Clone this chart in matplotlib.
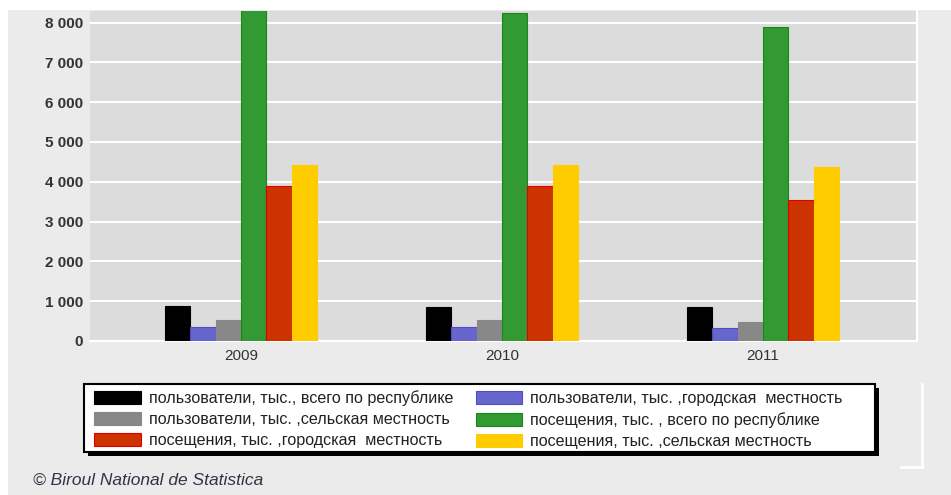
import matplotlib
matplotlib.use("Agg")
import matplotlib.pyplot as plt
import numpy as np
from matplotlib.patches import Rectangle
from matplotlib.lines import Line2D

years = ["2009", "2010", "2011"]
series_labels = [
    "пользователи, тыс., всего по республике",
    "пользователи, тыс. ,городская  местность",
    "пользователи, тыс. ,сельская местность",
    "посещения, тыс. , всего по республике",
    "посещения, тыс. ,городская  местность",
    "посещения, тыс. ,сельская местность",
]
users_total = [887, 846, 846]
users_urban = [360, 360, 318]
users_rural = [528, 520, 485]
visits_total = [8350, 8250, 7900]
visits_urban = [3895, 3895, 3543]
visits_rural = [4414, 4414, 4380]
yticks = [0, 1000, 2000, 3000, 4000, 5000, 6000, 7000, 8000]
ytick_labels = ["0", "1 000", "2 000", "3 000", "4 000", "5 000", "6 000", "7 000", "8 000"]
source_text = "© Biroul National de Statistica"

series = [users_total, users_urban, users_rural, visits_total, visits_urban, visits_rural]
colors = ["#000000", "#6666cc", "#888888", "#339933", "#cc3300", "#ffcc00"]
edges = ["#000000", "#4f4fc0", "#888888", "#138a13", "#e00000", "#ffcc00"]

plt.rcParams['font.family'] = ['Liberation Sans', 'DejaVu Sans']

fig = plt.figure(figsize=(9.51, 4.95), dpi=100, facecolor="#ebebeb")
W, H = 951, 495
# white strips at top and left
fig.patches.append(Rectangle((0, 1 - 10 / H), 1, 10 / H, transform=fig.transFigure,
                             facecolor="white", edgecolor="none", zorder=0))
fig.patches.append(Rectangle((0, 0), 8 / W, 1, transform=fig.transFigure,
                             facecolor="white", edgecolor="none", zorder=0))

ax = fig.add_axes([90 / W, 1 - 341 / H, (917 - 90) / W, (341 - 11) / H])
ax.set_facecolor("#dcdcdc")

x = np.arange(len(years))
w = 0.097
handles = []
for i, (vals, c, ec) in enumerate(zip(series, colors, edges)):
    b = ax.bar(x + (i - 2.5) * w, vals, width=w, color=c, edgecolor=ec,
               linewidth=0.8, zorder=3, label=series_labels[i])
    handles.append(b)

ax.set_xlim(-0.579, 2.59)
ax.set_ylim(0, 8290)
ax.set_yticks(yticks)
ax.set_yticklabels(ytick_labels)
ax.set_xticks(x)
ax.set_xticklabels(years)
ax.yaxis.grid(True, color="white", linewidth=1.5, zorder=1)
ax.set_axisbelow(True)
for s in ["top", "left"]:
    ax.spines[s].set_visible(False)
for s in ["right", "bottom"]:
    ax.spines[s].set_color("white")
    ax.spines[s].set_linewidth(1.5)
ax.tick_params(axis="both", length=0, colors="#333333")
ax.tick_params(axis="y", pad=5, labelsize=11)
ax.tick_params(axis="x", pad=6, labelsize=11)
for t in ax.get_yticklabels():
    t.set_fontweight("bold")

# legend box with hard shadow
lx0, lx1, ly0, ly1 = 84, 875, 384, 452
fig.patches.append(Rectangle(((lx0 + 4) / W, 1 - (ly1 + 4) / H), (lx1 - lx0) / W, (ly1 - ly0) / H,
                             transform=fig.transFigure, facecolor="black",
                             edgecolor="none", zorder=3))
fig.patches.append(Rectangle((lx0 / W, 1 - ly1 / H), (lx1 - lx0) / W, (ly1 - ly0) / H,
                             transform=fig.transFigure, facecolor="white",
                             edgecolor="black", linewidth=1.5, zorder=4))

order = [0, 2, 4, 1, 3, 5]
leg = fig.legend([handles[k] for k in order], [series_labels[k] for k in order],
                 ncol=2, loc="upper left", bbox_to_anchor=(88 / W, 1 - 384 / H),
                 bbox_transform=fig.transFigure, borderaxespad=0,
                 fontsize=11.6, frameon=False,
                 handlelength=2.86, handleheight=0.87, handletextpad=0.5,
                 labelspacing=0.37, columnspacing=1.4, borderpad=0.4)
leg.set_zorder(5)
for t in leg.get_texts():
    t.set_color("#222222")

# faint white bracket artifact at right
fig.add_artist(Line2D([922 / W, 922 / W], [1 - 384 / H, 1 - 467 / H],
                      transform=fig.transFigure, color="white", linewidth=2))
fig.add_artist(Line2D([901 / W, 922 / W], [1 - 467 / H, 1 - 467 / H],
                      transform=fig.transFigure, color="white", linewidth=2))

fig.text(33 / W, 1 - 480 / H, source_text, fontsize=12.5, style="italic",
         color="#333344", va="center", ha="left")

fig.savefig("out.png", dpi=100, facecolor=fig.get_facecolor())
